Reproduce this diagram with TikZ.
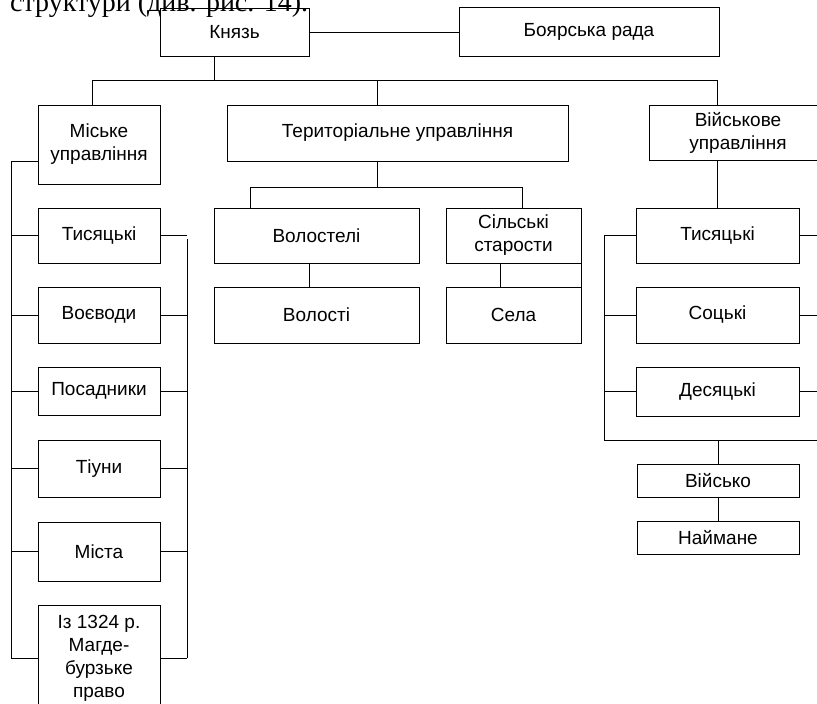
\documentclass[tikz,border=0pt]{standalone}
\usepackage{fontspec}
\usepackage{tikz}
\newfontfamily\boxfont{Liberation Sans}
\newfontfamily\pagefont{Liberation Serif}

\begin{document}
\begin{tikzpicture}[x=1pt,y=-1pt,
  box/.style={draw,line width=1pt,inner sep=0pt,align=center,
    font=\boxfont\fontsize{19}{23}\selectfont},
  link/.style={line width=1pt}]
  \useasboundingbox (0,0) rectangle (817,704);
  \clip (0,0) rectangle (817,704);

  % Text of the page above the scheme
  \node[font=\pagefont\fontsize{28}{30}\selectfont,anchor=base west,inner sep=0pt] (pagetext) at (10,12) {структури (див. рис. 14).};

  % Prince and council
  \node[box,minimum width=149,minimum height=48] (knyaz) at (234.5,32) {Князь};
  \node[box,minimum width=260,minimum height=49] (rada) at (589,31.5) {Боярська рада};
  \draw[link] (knyaz.east) -- (knyaz.east -| rada.west);

  % Three branches
  \node[box,minimum width=122,minimum height=79] (miske) at (99,144.5) {Міське\\управління};
  \node[box,minimum width=341,minimum height=56] (terr) at (397.5,133) {Територіальне управління};
  \node[box,minimum width=178,minimum height=55] (viysk) at (738,132.5) {Військове\\управління};
  \coordinate (busL) at (92,80);
  \coordinate (busK) at (214,80);
  \coordinate (busT) at (377,80);
  \coordinate (busR) at (717,80);
  \draw[link] (busL) -- (busR);
  \draw[link] (busK) -- (busK |- knyaz.south);
  \draw[link] (busL) -- (busL |- miske.north);
  \draw[link] (busT) -- (busT |- terr.north);
  \draw[link] (busR) -- (busR |- viysk.north);

  % City government
  \node[box,minimum width=122,minimum height=55] (tysL) at (99,235.5) {Тисяцькі};
  \node[box,minimum width=122,minimum height=56] (voev) at (99,315) {Воєводи};
  \node[box,minimum width=122,minimum height=48] (posad) at (99,391) {Посадники};
  \node[box,minimum width=122,minimum height=57] (tiun) at (99,468.5) {Тіуни};
  \node[box,minimum width=122,minimum height=59] (mista) at (99,551.5) {Міста};
  \node[box,minimum width=122,minimum height=106] (iz) at (99,658) {Із 1324 р.\\Магде-\\бурзьке\\право};
  \coordinate (cityL) at (11,161);
  \coordinate (cityR) at (187,239);
  \draw[link] (miske.west |- cityL) -- (cityL) -- (cityL |- iz.west);
  \draw[link] (cityR) -- (cityR |- iz.east);
  \foreach \b in {tysL,voev,posad,tiun,mista,iz}{
    \draw[link] (\b.west) -- (\b.west -| cityL);
    \draw[link] (\b.east) -- (\b.east -| cityR);
  }

  % Territorial government
  \node[box,minimum width=205,minimum height=55] (volost) at (316.5,235.5) {Волостелі};
  \node[box,minimum width=135,minimum height=55] (silski) at (513.5,235.5) {Сільські\\старости};
  \node[box,minimum width=205,minimum height=56] (volosti) at (316.5,315) {Волості};
  \node[box,minimum width=135,minimum height=56] (sela) at (513.5,315) {Села};
  \coordinate (terrL) at (250,187);
  \coordinate (terrM) at (377,187);
  \coordinate (terrR) at (522,187);
  \draw[link] (terrM) -- (terrM |- terr.south);
  \draw[link] (terrL |- volost.north) -- (terrL) -- (terrR) -- (terrR |- silski.north);
  \draw[link] ([xshift=-7.5pt]volost.south) -- ([xshift=-7.5pt]volosti.north);
  \draw[link] ([xshift=-13.5pt]silski.south) -- ([xshift=-13.5pt]sela.north);
  \draw[link] (silski.south east) -- (sela.north east);

  % Military government
  \node[box,minimum width=163,minimum height=55] (tysR) at (717.5,235.5) {Тисяцькі};
  \node[box,minimum width=163,minimum height=56] (sots) at (717.5,315) {Соцькі};
  \node[box,minimum width=163,minimum height=49] (desy) at (717.5,391.5) {Десяцькі};
  \node[box,minimum width=162,minimum height=33] (viysko) at (718,480.5) {Військо};
  \node[box,minimum width=162,minimum height=33] (naim) at (718,537.5) {Наймане};
  \coordinate (armyL) at (604,440);
  \coordinate (armyR) at (831,440);
  \draw[link] (tysR.north) -- (tysR.north |- viysk.south);
  \draw[link] (tysR.west -| armyL) -- (armyL) -- (armyR) -- (armyR |- tysR.east);
  \foreach \b in {tysR,sots,desy}{
    \draw[link] (\b.west) -- (\b.west -| armyL);
    \draw[link] (\b.east) -- (\b.east -| armyR);
  }
  \draw[link] (armyL -| viysko.north) -- (viysko.north);
  \draw[link] (viysko) -- (naim);
\end{tikzpicture}
\end{document}
